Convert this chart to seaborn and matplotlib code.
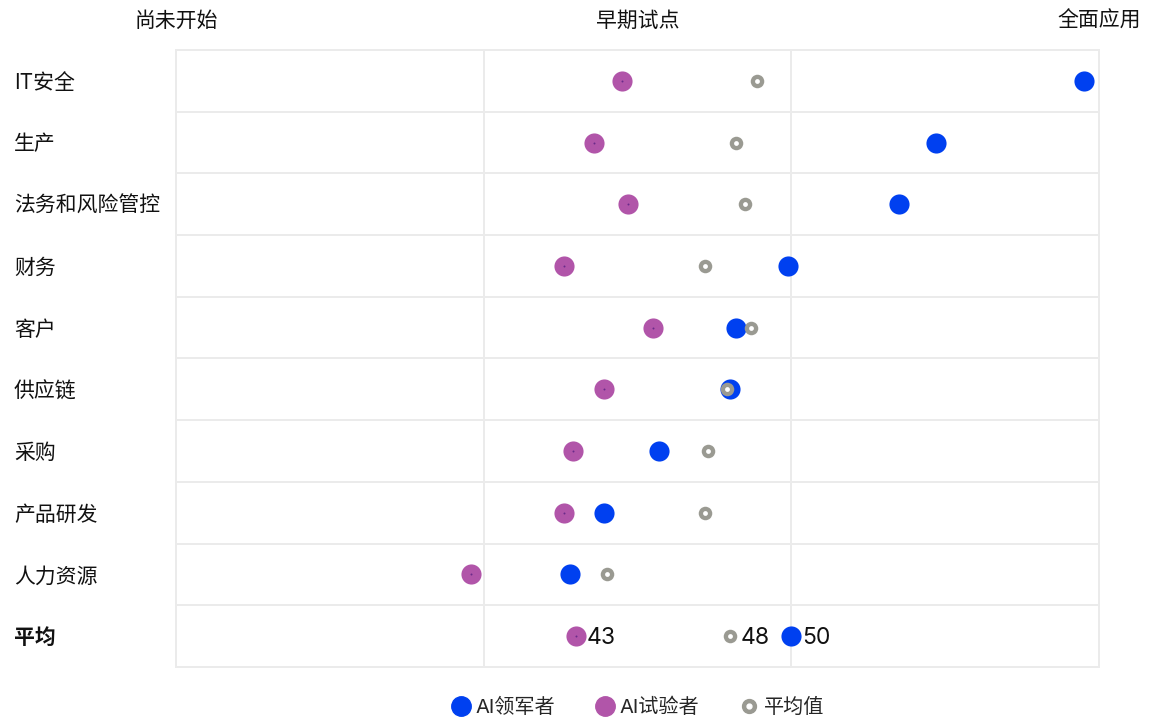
import matplotlib.pyplot as plt
import matplotlib.lines as mlines
import seaborn as sns
import pandas as pd

categories = ["IT安全", "生产", "法务和风险管控", "财务", "客户", "供应链", "采购", "产品研发", "人力资源", "平均"]
leaders = [59.5, 54.7, 53.5, 49.9, 48.2, 48.0, 45.7, 43.9, 42.8, 50.0]
pilots = [44.5, 43.6, 44.7, 42.6, 45.5, 43.9, 42.9, 42.6, 39.6, 43.0]
averages = [48.9, 48.2, 48.5, 47.2, 48.7, 47.9, 47.3, 47.2, 44.0, 48.0]
stage_ticks = [30, 45, 60]
stage_labels = ["尚未开始", "早期试点", "全面应用"]
series_names = ["AI领军者", "AI试验者", "平均值"]

blue = "#0040F0"
purple = "#B155A9"
grey = "#9A9A92"

sns.set_theme(style="white")
plt.rcParams["font.family"] = ["Inter", "Noto Sans CJK SC", "DejaVu Sans"]

n = len(categories)
df = pd.DataFrame({
    "row": list(range(n)) * 3,
    "score": pilots + leaders + averages,
    "series": [series_names[1]] * n + [series_names[0]] * n + [series_names[2]] * n,
})

fig, ax = plt.subplots(figsize=(11.58, 7.2), dpi=100)
fig.subplots_adjust(left=176 / 1158, right=1099 / 1158, top=1 - 50 / 720, bottom=1 - 667 / 720)

# pilots, then leaders, then averages on top
sns.scatterplot(data=df[df.series == "AI试验者"], x="score", y="row", color=purple,
                s=210, linewidth=0, ax=ax, legend=False, zorder=3)
sns.scatterplot(data=df[df.series == "AI试验者"], x="score", y="row", color="#6a2a8a",
                s=2, linewidth=0, ax=ax, legend=False, zorder=3.1)
sns.scatterplot(data=df[df.series == "AI领军者"], x="score", y="row", color=blue,
                s=210, linewidth=0, ax=ax, legend=False, zorder=4)
sns.scatterplot(data=df[df.series == "平均值"], x="score", y="row", color=grey,
                s=95, linewidth=0, ax=ax, legend=False, zorder=5)
sns.scatterplot(data=df[df.series == "平均值"], x="score", y="row", color="white",
                s=12, linewidth=0, ax=ax, legend=False, zorder=6)

# value labels for the average row
last = n - 1
for val in [pilots[last], averages[last], leaders[last]]:
    ax.annotate(f"{val:.0f}", (val, last), xytext=(8, -1.5), textcoords="offset points",
                va="center", ha="left", fontsize=16.5, color="#111111", zorder=7)

ax.set_xlim(30, 60)
ax.set_ylim(n - 0.5, -0.5)

for xv in [40, 50]:
    ax.axvline(xv, color="#ebebeb", lw=1.4, zorder=1)
for yv in range(1, n):
    ax.axhline(yv - 0.5, color="#ebebeb", lw=1.4, zorder=1)
for sp in ax.spines.values():
    sp.set_color("#ebebeb")
    sp.set_linewidth(1.4)

ax.xaxis.tick_top()
ax.set_xticks(stage_ticks)
ax.set_xticklabels(stage_labels, fontsize=15, color="#111111")
ax.tick_params(axis="x", length=0, pad=14)

ax.set_yticks(range(n))
ax.set_yticklabels(categories, fontsize=15, color="#111111")
ax.tick_params(axis="y", length=0, pad=(176 - 14) * 0.72)
for lab in ax.get_yticklabels():
    lab.set_ha("left")
ax.get_yticklabels()[-1].set_fontweight("bold")

ax.set_xlabel("")
ax.set_ylabel("")

avg_outer = mlines.Line2D([], [], marker="o", ls="", color=grey, markersize=10)
avg_inner = mlines.Line2D([], [], marker="o", ls="", color="white", markersize=3.5)
handles = [
    mlines.Line2D([], [], marker="o", ls="", color=blue, markersize=14),
    mlines.Line2D([], [], marker="o", ls="", color=purple, markersize=14),
    (avg_outer, avg_inner),
]
fig.legend(handles, series_names, loc="center", bbox_to_anchor=(637.5 / 1158, 1 - 707 / 720),
           ncol=3, frameon=False, fontsize=14.5, handletextpad=0.2, columnspacing=2.0,
           handlelength=1.0)

fig.savefig("out.png", dpi=100, facecolor="white")
